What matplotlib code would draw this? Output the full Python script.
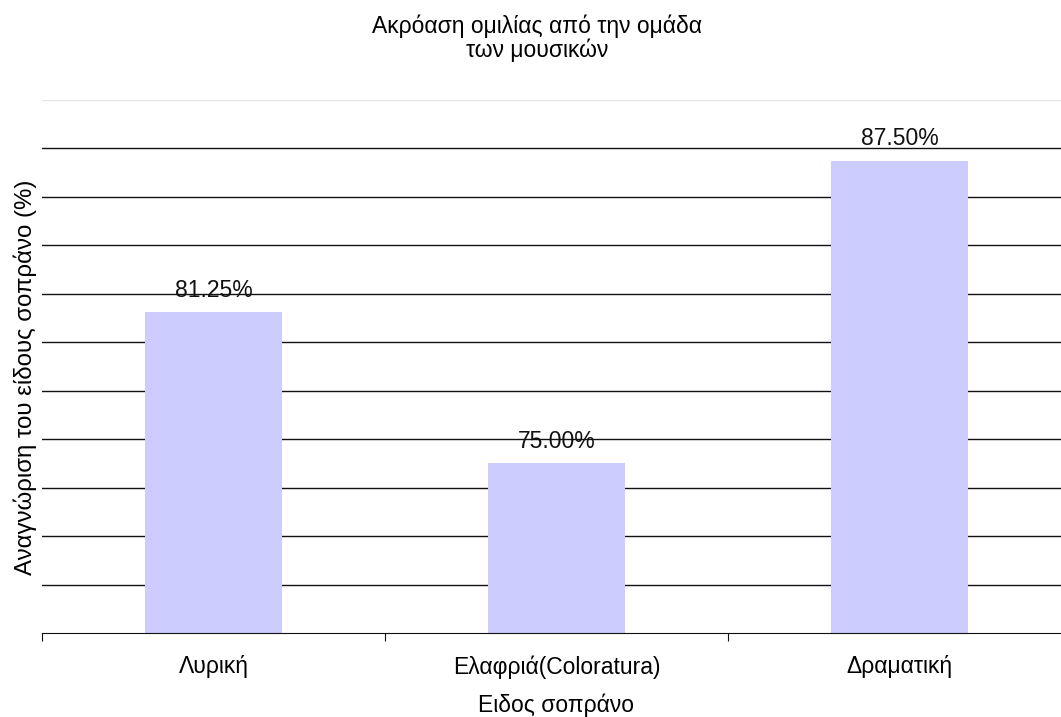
"""
Ακρόαση ομιλίας από την ομάδα των μουσικών - αναγνώριση είδους σοπράνο.
"""
import matplotlib
matplotlib.use('Agg')
import matplotlib.pyplot as plt
import numpy as np

categories = ['Λυρική', 'Ελαφριά(Coloratura)', 'Δραματική']
values = [81.25, 75.00, 87.50]
grid_levels = [70, 72, 74, 76, 78, 80, 82, 84, 86, 88]

FS = 16.5
plt.rcParams.update({'font.family': ['Liberation Sans', 'DejaVu Sans'], 'font.size': FS})

fig = plt.figure(figsize=(10.61, 7.17), dpi=100)
W, H = 1061, 717
ax = fig.add_axes([42 / W, 1 - 633 / H, 1029 / W, (633 - 100) / H])

x = np.arange(len(categories))
ax.set_xlim(-0.5, 2.5)
ax.set_ylim(68, 90)

for g in grid_levels:
    ax.axhline(g, color='#111111', linewidth=1, zorder=1)
ax.axhline(90, color='#e6e6e6', linewidth=1, zorder=1)

ax.bar(x, values, width=0.4, color='#ccccff', zorder=2)

for xi, v in zip(x, values):
    ax.annotate(f'{v:.2f}%', (xi, v), xytext=(0, 7.5), textcoords='offset points',
                ha='center', va='bottom', fontsize=FS, color='#111111')

for s in ['top', 'right', 'left']:
    ax.spines[s].set_visible(False)
ax.spines['bottom'].set_color('#111111')
ax.set_yticks([])

ax.set_xticks([-0.5, 0.5, 1.5, 2.5])
ax.set_xticklabels([])
ax.tick_params(axis='x', length=6, color='#111111', direction='out')
for xi, c in zip(x, categories):
    ax.text(xi, -(667 - 633) / (633 - 100), c, transform=ax.get_xaxis_transform(),
            ha='center', va='center', fontsize=FS)

fig.text(556 / W, 1 - 705 / H, 'Ειδος σοπράνο', ha='center', va='center', fontsize=FS)
fig.text(25 / W, 1 - 377 / H, 'Αναγνώριση του είδους σοπράνο (%)', rotation=90,
         ha='center', va='center', fontsize=17.3)
fig.text(537 / W, 1 - 38 / H, 'Ακρόαση ομιλίας από την ομάδα\nτων μουσικών',
         ha='center', va='center', fontsize=FS, linespacing=1.05)

fig.savefig('out.png', dpi=100)
